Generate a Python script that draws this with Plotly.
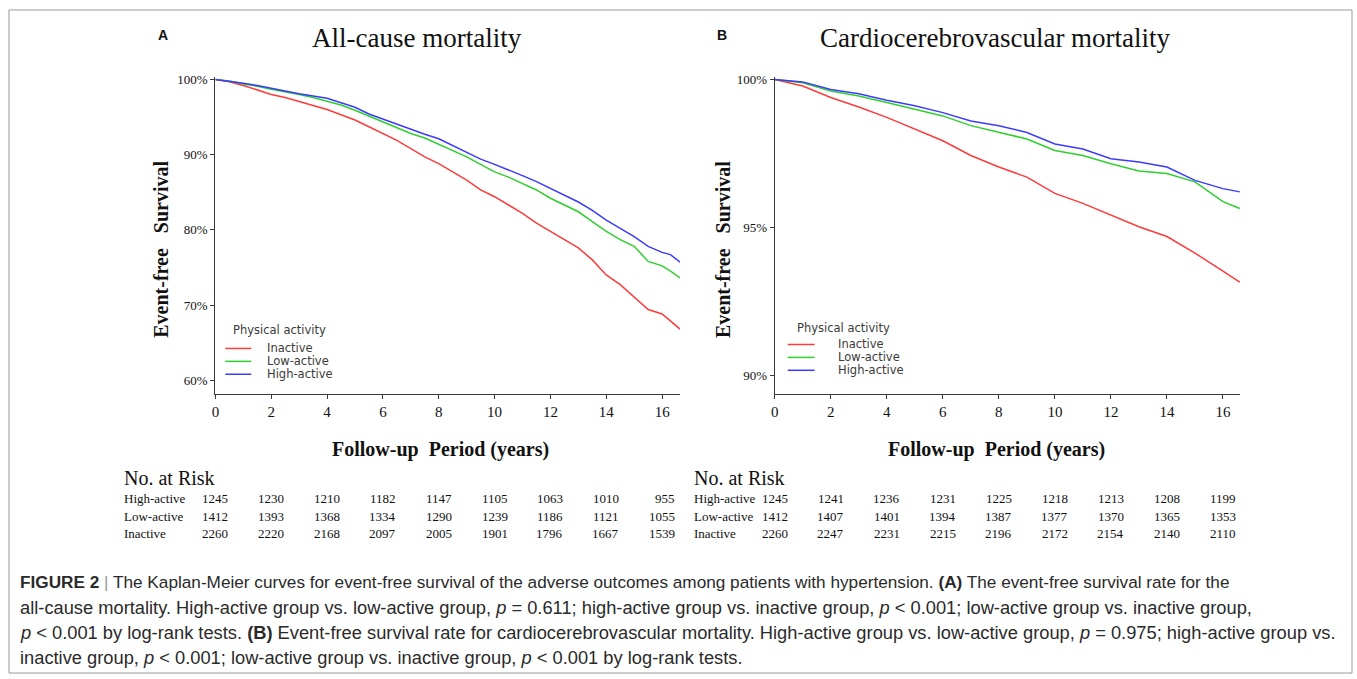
import plotly.graph_objects as go

# ---------------- data ----------------
groups = ["Inactive", "Low-active", "High-active"]

# Panel A: all-cause mortality (event-free survival, %)
ac_time = [0, 0.5, 1, 1.5, 2, 2.5, 3, 3.5, 4, 4.5, 5, 5.5, 6, 6.5, 7, 7.5, 8, 8.5,
           9, 9.5, 10, 10.5, 11, 11.5, 12, 12.5, 13, 13.5, 14, 14.5, 15, 15.5, 16,
           16.3, 16.64]
ac_high = [100, 99.8, 99.5, 99.2, 98.8, 98.5, 98.1, 97.8, 97.5, 96.9, 96.3, 95.4,
           94.7, 94.1, 93.4, 92.7, 92.1, 91.2, 90.3, 89.4, 88.7, 88.0, 87.2, 86.4,
           85.5, 84.6, 83.7, 82.6, 81.3, 80.2, 79.1, 77.8, 77.0, 76.7, 75.7]
ac_low = [100, 99.8, 99.4, 99.1, 98.7, 98.4, 98.0, 97.6, 97.1, 96.6, 95.9, 95.1,
          94.3, 93.6, 92.8, 92.2, 91.4, 90.5, 89.7, 88.7, 87.7, 87.0, 86.1, 85.3,
          84.2, 83.3, 82.4, 81.1, 79.8, 78.7, 77.8, 75.8, 75.2, 74.5, 73.6]
ac_inactive = [100, 99.7, 99.2, 98.6, 98.0, 97.6, 97.1, 96.6, 96.0, 95.3, 94.6, 93.7,
               92.8, 91.9, 90.8, 89.7, 88.8, 87.7, 86.6, 85.3, 84.4, 83.3, 82.2, 80.9,
               79.8, 78.7, 77.6, 76.0, 74.0, 72.7, 71.0, 69.4, 68.8, 67.9, 66.8]

# Panel B: cardiocerebrovascular mortality (event-free survival, %)
cv_time = [0, 1, 2, 3, 4, 5, 6, 7, 8, 9, 10, 11, 12, 13, 14, 15, 16, 16.6]
cv_high = [100, 99.92, 99.66, 99.52, 99.30, 99.11, 98.88, 98.60, 98.44, 98.21, 97.82,
           97.65, 97.32, 97.21, 97.04, 96.59, 96.31, 96.20]
cv_low = [100, 99.89, 99.61, 99.44, 99.22, 98.99, 98.77, 98.44, 98.21, 97.99, 97.60,
          97.43, 97.15, 96.91, 96.82, 96.54, 95.87, 95.64]
cv_inactive = [100, 99.78, 99.39, 99.07, 98.72, 98.32, 97.93, 97.43, 97.04, 96.70, 96.15,
               95.81, 95.42, 95.02, 94.69, 94.13, 93.52, 93.15]

# Number at risk
risk_time = [0, 2, 4, 6, 8, 10, 12, 14, 16]
risk_rows = ["High-active", "Low-active", "Inactive"]
ac_risk_high = [1245, 1230, 1210, 1182, 1147, 1105, 1063, 1010, 955]
ac_risk_low = [1412, 1393, 1368, 1334, 1290, 1239, 1186, 1121, 1055]
ac_risk_inactive = [2260, 2220, 2168, 2097, 2005, 1901, 1796, 1667, 1539]
cv_risk_high = [1245, 1241, 1236, 1231, 1225, 1218, 1213, 1208, 1199]
cv_risk_low = [1412, 1407, 1401, 1394, 1387, 1377, 1370, 1365, 1353]
cv_risk_inactive = [2260, 2247, 2231, 2215, 2196, 2172, 2154, 2140, 2110]

x_ticks = [0, 2, 4, 6, 8, 10, 12, 14, 16]
ac_yticks = [60, 70, 80, 90, 100]
cv_yticks = [90, 95, 100]

titles = ["All-cause mortality", "Cardiocerebrovascular mortality"]
caption_lines = [
    "<b>FIGURE 2</b> <span style='color:#9a9a9a'>|</span> The Kaplan-Meier curves for event-free survival of the adverse outcomes among patients with hypertension. <b>(A)</b> The event-free survival rate for the",
    "all-cause mortality. High-active group vs. low-active group, <i>p</i> = 0.611; high-active group vs. inactive group, <i>p</i> &lt; 0.001; low-active group vs. inactive group,",
    "<i>p</i> &lt; 0.001 by log-rank tests. <b>(B)</b> Event-free survival rate for cardiocerebrovascular mortality. High-active group vs. low-active group, <i>p</i> = 0.975; high-active group vs.",
    "inactive group, <i>p</i> &lt; 0.001; low-active group vs. inactive group, <i>p</i> &lt; 0.001 by log-rank tests.",
]

# ---------------- style ----------------
W, H = 1357, 679
colors = {"Inactive": "#ff3b3b", "Low-active": "#2fcf2f", "High-active": "#3b3bff"}
SERIF = "Liberation Serif, Times New Roman, serif"
SANS = "Liberation Sans, Arial, sans-serif"
LEG = "DejaVu Sans, Verdana, sans-serif"


def px(x):
    return x / W


def py(y):
    return 1 - y / H


fig = go.Figure()

panel_series = [
    ("x", "y", ac_time, {"Inactive": ac_inactive, "Low-active": ac_low, "High-active": ac_high}),
    ("x2", "y2", cv_time, {"Inactive": cv_inactive, "Low-active": cv_low, "High-active": cv_high}),
]
for xa, ya, t, ser in panel_series:
    for g in groups:
        fig.add_trace(go.Scatter(
            x=t, y=ser[g], mode="lines", name=g, xaxis=xa, yaxis=ya,
            line=dict(color=colors[g], width=1.5), showlegend=False,
            hoverinfo="skip"))

axis_common = dict(
    showline=True, linecolor="#3a3a3a", linewidth=1.3, ticks="outside",
    ticklen=4, tickwidth=1.3, tickcolor="#3a3a3a", showgrid=False,
    zeroline=False, mirror=False,
)

fig.update_layout(
    width=W, height=H, margin=dict(l=0, r=0, t=0, b=0),
    paper_bgcolor="white", plot_bgcolor="white", showlegend=False,
    xaxis=dict(domain=[px(212), px(678)], range=[0, 16.64], anchor="y",
               tickvals=x_ticks, tickfont=dict(family=SERIF, size=15, color="#111"),
               **axis_common),
    yaxis=dict(domain=[py(392), py(73)], range=[58.15, 100.26], anchor="x",
               tickvals=ac_yticks, ticktext=[f"{v}%" for v in ac_yticks],
               tickfont=dict(family=SERIF, size=13, color="#111"), **axis_common),
    xaxis2=dict(domain=[px(773), px(1240)], range=[0, 16.62], anchor="y2",
                tickvals=x_ticks, tickfont=dict(family=SERIF, size=15, color="#111"),
                **axis_common),
    yaxis2=dict(domain=[py(392), py(73)], range=[89.36, 100.07], anchor="x2",
                tickvals=cv_yticks, ticktext=[f"{v}%" for v in cv_yticks],
                tickfont=dict(family=SERIF, size=13, color="#111"), **axis_common),
)

ann = []
shapes = []

# outer frame
shapes.append(dict(type="rect", xref="paper", yref="paper", x0=px(5), x1=px(1352),
                   y0=py(673), y1=py(5), line=dict(color="#9a9a9a", width=1)))

# panel letters & titles
for letter, lx, title, tx in [("A", 152, titles[0], 414), ("B", 713, titles[1], 994)]:
    ann.append(dict(text=f"<b>{letter}</b>", x=px(lx), y=py(30), xref="paper", yref="paper",
                    xanchor="left", yanchor="middle", showarrow=False,
                    font=dict(family=SANS, size=14, color="#111")))
    ann.append(dict(text=title, x=px(tx), y=py(33), xref="paper", yref="paper",
                    xanchor="center", yanchor="middle", showarrow=False,
                    font=dict(family=SERIF, size=27, color="#111")))

# axis titles
for yx, xx in [(158, 438), (721, 995)]:
    ann.append(dict(text="<b>Event-free&nbsp;&nbsp;&nbsp;Survival</b>", x=px(yx), y=py(246),
                    xref="paper", yref="paper", textangle=-90, xanchor="center",
                    yanchor="middle", showarrow=False,
                    font=dict(family=SERIF, size=20, color="#111")))
    ann.append(dict(text="<b>Follow-up&nbsp;&nbsp;Period (years)</b>", x=px(xx), y=py(448),
                    xref="paper", yref="paper", xanchor="center", yanchor="middle",
                    showarrow=False, font=dict(family=SERIF, size=20, color="#111")))

# manual legends
legend_specs = [
    dict(title_x=228, title_y=327, line_x=(222, 248), text_x=262, ys=[346, 359, 372]),
    dict(title_x=793, title_y=325, line_x=(786, 813), text_x=834, ys=[342, 355, 368]),
]
for spec in legend_specs:
    ann.append(dict(text="Physical activity", x=px(spec["title_x"]), y=py(spec["title_y"]),
                    xref="paper", yref="paper", xanchor="left", yanchor="middle",
                    showarrow=False, font=dict(family=LEG, size=11.5, color="#3a3a3a")))
    for g, yy in zip(groups, spec["ys"]):
        shapes.append(dict(type="line", xref="paper", yref="paper",
                           x0=px(spec["line_x"][0]), x1=px(spec["line_x"][1]),
                           y0=py(yy), y1=py(yy), line=dict(color=colors[g], width=1.5)))
        ann.append(dict(text=g, x=px(spec["text_x"]), y=py(yy), xref="paper", yref="paper",
                        xanchor="left", yanchor="middle", showarrow=False,
                        font=dict(family=LEG, size=11.5, color="#3a3a3a")))

# risk tables
tables = [
    ("x", 118, [ac_risk_high, ac_risk_low, ac_risk_inactive]),
    ("x2", 690, [cv_risk_high, cv_risk_low, cv_risk_inactive]),
]
row_y = [497, 515, 532]
for xa, lx, rows in tables:
    ann.append(dict(text="No. at Risk", x=px(lx), y=py(477), xref="paper", yref="paper",
                    xanchor="left", yanchor="middle", showarrow=False,
                    font=dict(family=SERIF, size=20, color="#111")))
    for name, vals, yy in zip(risk_rows, rows, row_y):
        ann.append(dict(text=name, x=px(lx), y=py(yy), xref="paper", yref="paper",
                        xanchor="left", yanchor="middle", showarrow=False,
                        font=dict(family=SERIF, size=13, color="#111")))
        for tt, v in zip(risk_time, vals):
            ann.append(dict(text=str(v), x=tt, y=py(yy), xref=xa, yref="paper",
                            xanchor="right", yanchor="middle", xshift=15,
                            showarrow=False,
                            font=dict(family=SERIF, size=13, color="#111")))

# caption
for i, (line, yy) in enumerate(zip(caption_lines, [581, 607, 632, 657])):
    ann.append(dict(text=line, x=px(14), y=py(yy), xref="paper", yref="paper",
                    xanchor="left", yanchor="middle", showarrow=False,
                    font=dict(family=SANS, size=17.2 if i == 0 else 18.3, color="#2a2a2a")))

fig.update_layout(annotations=ann, shapes=shapes)
fig.write_html(
    "out.html",
    config={"displayModeBar": False},
    post_script="document.body.style.margin='0';document.body.style.padding='0';",
)
